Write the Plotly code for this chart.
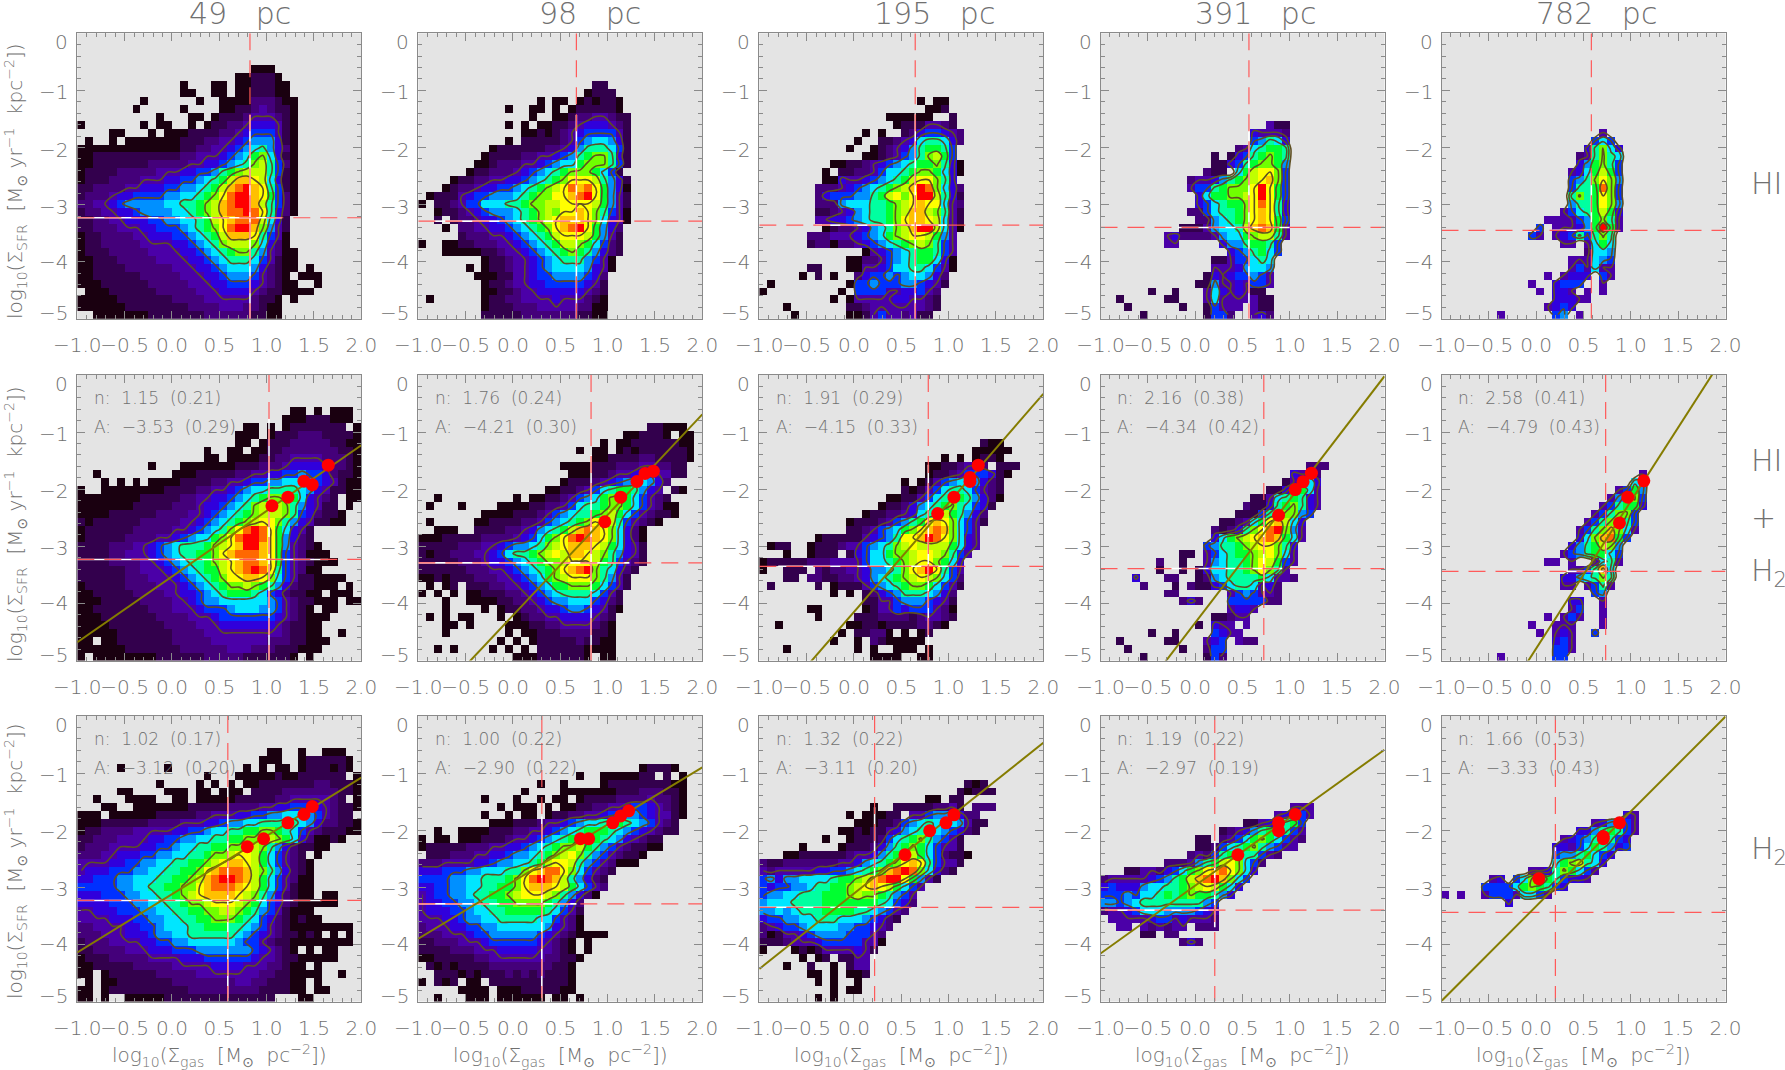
import plotly.graph_objects as go

# each row is a top-down line of 36 bins, hex digit = colour level, "." = empty
hi_49 = [""]*4 + [
"......................000",
"....................001110",
".............0...00.0011100",
".............00..00.0011100",
"........0......0..0000222100",
".......0.....0....0011232110",
"..........0...00.01112333210",
"0.......0.00..0.011223444310",
"....00...0.00011112234555310",
".0..0.0000000111223345666410",
"0000000000000112233456786420",
"00111111111112233345679a7410",
"0011111112222233445678ab8520",
"01111222223334455689abbb8510",
"0111222233344556789bddcb7410",
"112222334445566789bdefdc8510",
"12223445555667789aceffdc9520",
"2233456666677889abdeffdb8520",
"1223344566667789abdeefec8420",
"11223344455667789bcdeeeb741",
"11222333445556789aceffda631",
"011222233444556789bdddc8530",
"011222223333445678abbba7420",
"01112222233334456789aa863200",
"0011122222333344567888753100",
"0011112222223334456777642100.0",
"001111112222233344566653210.000",
"0001111112222233344555432100..0",
".00011111122222333444432110000",
"00000111111122223333332110.0",
"00000011111111222233322100",
"..000000011111112222221100",
]
hi_98 = [""]*6 + [
"......................11",
".....................0111",
"...............0.00.010110",
"...........0..00.0.0111110",
"..............0..0012233211",
"...........0.0.001123444321",
".............00101234555531",
"...........0.11111235677641",
".........011111122346888751",
"........01111223345689aa841",
".......00122233456779aaa851",
"......0112223456789aaa9751",
"....01122334456789acccb8641",
"...0122344556789abcedec9640",
".01113455666789aaccdefc9631",
"0.112355777889aabbccccb9631",
"..0112345666789abaccdca8530",
"..1.12234456789abcdddca7430",
"...0.22334456789acdefc9642",
".....122233456789bcccb9631",
"0..001122233456789bba97521",
"...0000011233456789a986421",
"........01123345678886530",
"......0.01123345677776430",
".......00011334556666542",
"........0112334455555431",
"........0011233444444321",
".0......0112233334333210",
"........0111222333332200",
"........1111122222221100",
]
hi_195 = [""]*8 + [
"....................0.00",
".....................001",
"................000000..1",
".................01113321",
".............0.0..12455432",
"............0..11234788742",
"...........0..01234689985",
".............00123568ab95",
".........0011234567899a840",
"........0.1122357789aa9740",
"........00433456789bcca84",
".......2223456789abdfea742",
".......245556689bcacffb841",
".......2226777889abcdcc732",
".......1123467889abddba831",
".......3344567889acddcb731",
"........012234678abdffb730",
"......2223334567" + "9abccb963",
"......1220223" + "456789aba853",
".............034567899853",
"...........00223567899740",
"......11...00334577887530",
".....0.1.0..245565677642",
".0.........0556555665431",
"0.........0.55553344532",
".........0.033333443321",
"...0.......112333333321",
"....0......00135332311",
]
hi_391 = [""]*11 + [
".....................311",
"...................43332",
"...................56874",
".................2378998",
"..............1.14589a98",
"..............114589aa96",
".............211.79bcca5",
"...........2334689abcda5",
"...........35589aaacfc95",
"............4799aabcfc95",
"............457899acec84",
"...........2257889acdc84",
"............226789acdc95",
"..........11136778bded93",
"........34222236779abb83",
"........33.....46689985",
"................4568975",
"..............11355787",
"..............33346776",
".............143455653",
"............1163343553",
"......1..1...37434311",
"..1.....11...373333311",
"...1......1..15333.311",
".....1.......1552..342",
]
hi_782 = [""]*12 + [
"....................3",
"...................575",
"..................48a74",
".................238a87",
".................469a85",
"................3479b95",
"................568aca6",
"................5889ea5",
"................8a89ca5",
"................6889ca6",
"...............35789b94",
".............3333569a83",
"............5.333469f93",
"...........53.345858a8",
"...............33.3797",
"..................2776",
"................333765",
"................353733",
".............3.3444.53",
"...........3..4555..3",
"............3.443.3.3",
"..............44433",
".............3454",
".......3......56.3",
]
mix_49 = [""]*4 + [
"...........................00.0.000",
"..........................000111000",
".....................00.0.01111111.0",
"....................000.011122211110",
"....................00.0111222221100",
"................0..00.00112222222110",
"................00.00001122333322210",
".........0...00000001112223444432210",
"..0.........000111112233445565542110",
"...0.0.0.000011112233455667776543100",
"0..000000001111223345677888876431100",
"000000001111122334456789aa9974321.00",
"0000000111112223445678ababa864311.0",
"0000111111222233456789abbba8542110",
"1011111122222334" + "56789abcca86431100",
"0111111222223345678acefec97431",
"011111222233456779aceffec96421",
"1111222334567888" + "9abcdffdc963210",
"111122333456788" + "99acdeeedc9532000",
"1111222233456788" + "9abcdeedc95321000",
"11111122333456789" + "9bcdefec853200",
"111111222333456789a" + "ccddca753110000",
"0111112222333456789aab" + "a98642" + "11000.0",
"0011111222233445678999" + "87542" + "1100.000",
"00011111222233" + "4566777777" + "65321" + "1000.00",
"001111111222333" + "45556777" + "66532" + "10.00",
"00011111112222333" + "45555555" + "4321" + "000",
"00001111111222233344" + "44444" + "3211" + "00",
"0000011111112222333333333" + "3211" + "00..0",
"00.00111111122222333333322211000",
"0000001111111222222333222111000",
"0.00000000111111222221111110.0",
]
mix_98 = [""]*6 + [
".............................11000",
"..........................001110.00",
".......................0.0011111100",
"....................0.00.0101111110",
"......................00111122" + "11110",
"..................0000111222" + "332211",
"...................000112334553311",
"..................01112345677642",
"................001123578998643.10",
"..0.........0.0011235679aa975321",
".0...0....00001122357889aa9753200",
"........0000111" + "23567889ab97532110",
".0.....001111" + "22356789accb853210",
"..000..1111" + "22346789bdedca7420",
"000111112222" + "34579acefedca7420",
"11111222334" + "56678abcdddcb97431",
"101122233457" + "889abcbddcba86431",
"111112223445" + "6789aabcccb985321",
"111111222334" + "56789acdefa87421",
"001011122233" + "45679abccca8631",
".0.01.111223" + "3456799aaa97531",
"0.0.0.001112" + "23456788887531",
"...0..000011" + "22345667775421",
"...0....0.01" + "12234456654310",
".0.0.00...0." + "0122334444321",
"...00.0....0" + "0011223333210",
"...0.......0" + ".001112222110",
"..........0." + "0.01111121100",
"..0.0....0.0" + ".0.1111110000",
"............" + "000111111" + "0.00",
]
mix_195 = [""]*8 + [
"............................100",
"...........................00000",
".......................0.0.0110",
".....................00112332.111",
".....................01123555410",
"..................0.01356776421",
"..................1013578875321",
"................001135789986420",
"...............011246789a87541",
".............0112234789b98642",
"...........0111235689cdca7531",
"...........11235679acdeda753",
".......011111" + "34568ccdfeca743",
".011..0111233" + "5678abcbbbb9743",
"...0..0111.14" + "5779aabccba853",
"0111112223333" + "57789abcca974",
"0..111.212233" + "46678acdfc853",
"...11.2211223" + "46789abcba752",
".1.....1.0111" + "356789aa97531",
".........0.0." + "124568887642",
".............113356665431",
"......00....." + "013354555320",
".......0....1" + "112222123321",
"..0........00" + "11011112210",
"..........0.1" + "1220.0.01",
".........0..0" + ".2100000",
"...0........0" + ".0..000.0",
"..............0000..00",
]
mix_391 = [""]*11 + [
"..........................222",
"........................4332",
".......................13674",
".....................1148973",
"...................113789843",
"..................211489a843",
".................111589aa65",
"...............112379cdb74",
"..............21248acefa63",
"..............479abcded973",
".............56889abcca84",
"..........11.357899abca73",
".......2..1.." + "367889acb953",
".......1..1.1" + "477889aca83",
"....4...22..1" + "267888897332",
".....2...1.21" + "1457887342",
"........22......" + "3565332",
"..........242..." + "5555522",
"................3443",
"..............11233",
"............1." + "433.3",
"......1..1...." + "5433",
"..1.....11..." + "345.322",
"...1......1.." + "255",
".....1......." + "152",
]
mix_782 = [""]*12 + [
".........................3",
"........................76",
"......................3596",
".....................369a5",
"....................358994",
"...................358aa5",
"..................358ac85",
".................358ada73",
".................47ade95",
"................4689ba6",
"...............35689975",
".............33.3..3783",
"................3358d7",
"...............44678a8",
"...............33.3583",
"...................56",
"................44..3",
"................35..3",
".............3.353..3",
"...........3..333...3",
"............3.343..5",
"..............453",
"..............553",
".......3......55",
]
h2_49 = [""]*4 + [
"........................00..0..000",
".......................000..0111110",
".....0.....0.........0.0.00.0111010",
"................0...00000100111111.0",
"..........0....0.0.0.00111111122111" + "0",
".....00....000.00.000.11112222222110",
"..0...0000..00.000001111122" + "3333321.0",
"...00..00000001111122223344555432110",
"000.00000011111223334455667776532" + "11",
"000111111222233344566778888876422110",
"011222233333445567788" + "99aa98753211100",
"11222333344" + "5566778899aaaba" + "97420010",
"122233334455" + "6778899aabba" + "86421100",
"222334445566" + "77889aabccb97532" + "1.0",
"333344556677" + "8899abcddcb97532" + "10",
"344455566778" + "899acdeeedba8642" + "10",
"445556677788" + "99abdeffedb97532" + "00",
"555556677889" + "9aacdeeedcb97531" + "00",
"444555667788" + "9abcddddcba86421" + "00.00",
"444455566778" + "89aabcccba975421" + "00000",
"334445556677" + "8899aabba9865310" + "00",
"333344455667" + "78899aaa98754210" + "100",
"223333445567" + "7788999887653210" + "0000000",
"222333444566" + "7788888876543211" + "010.0.0",
"122233334455" + "66777777655" + "32110" + "0000000",
"112222333444" + "555" + "6666666" + "54321" + "0.0.00",
"011122222333" + "3444" + "555555" + "4332" + "11" + "00000",
"001111122222" + "33333" + "4444" + "333" + "221" + "00.0",
"00.011111122" + "222" + "33333333" + "22" + "11" + "0000..0",
".0.00" + "1111111" + "22222222" + "33" + "22" + "111" + "00.0",
"00.0" + "1111111111" + "222222222" + "1111" + "00.00",
"00.0..00000" + "11111111111111" + "..." + "00",
]
h2_98 = [""]*6 + [
"............................01110",
"....................0..0000011.1.0",
"...............0..0....011111111" + "00",
".............0....0000000" + "111222110",
"........0...0..0.00.0" + "1111" + "2222" + "3" + "22" + "10",
"..........0.000.0.00" + "11223345543210",
"........0..0.00.0" + "11223345666543310",
".........000" + "111233456778998765321",
"..0..0000" + "111" + "223345678999876543211",
"0.00.000" + "111" + "2" + "33456789aa987643211",
"011111222" + "3344" + "56789aab9865321100",
".11122233445" + "66789abca86532110",
"222333344566" + "7789bccb86532000",
"4445556677788" + "acdeeca75321",
"5555667788" + "89a" + "cefedb8" + "6421",
"445566778899a" + "cdddcb97532",
"34556678899ab" + "cccba86420",
"3445566788" + "99a" + "aaa" + "98642",
"344455677889" + "9999" + "87531",
"333445667788" + "888" + "77" + "5320",
"233344556677" + "7777" + "64320",
"222333455666" + "666" + "54321" + "0000",
"112223334555" + "555" + "43210.0",
"111122233344" + "444" + "33210.0",
"001111122333" + "3333" + "22110",
".10101111222" + "22222" + "110",
"..1110101112" + "12121110",
"0.101.00.111" + "11111110",
".....0000.00" + "01111100",
"..0...000.000000.00.0",
]
h2_195 = [""]*8 + [
"..........................101",
".........................10111",
".....................00.11",
"..............0.." + "11111" + "223" + "1.222",
"...........0.000" + "11.33" + "5667422",
"............000" + "11256787776311",
"..........00" + "1011" + "346788765421",
"........0..0" + "1112" + "5789a86531",
".....0....0" + "1112" + "4689a975331",
"...00" + "111111" + "2334" + "689ab9752110",
"2112222222" + "33" + "46789acdc85331",
"323333344556" + "789adefea7421",
"564667777899" + "abdeffc9631",
"54556678899a" + "bcdcb9753",
"56677888999a" + "baa98653",
"677788889999" + "99987542",
"667678889999" + "8876532",
"455667788877" + "765421",
"234556777766" + "55432",
"201334566665" + "5532",
"111233345555" + "5330",
"0...01013333" + "431",
".....0.01.11" + "33",
"...0..1..0.1" + "33",
"......00.0.0" + "01",
".......0.0..0",
".........0.00",
".......0.0",
]
h2_391 = [""]*11 + [
"........................333",
"......................34553",
"..................11347895",
"...............1234689b853",
"............11.23579a97532",
"............1125789a86533",
"...........232589a88532",
"........2223689bca752",
"...113324579acdeca74",
"23333345689bdefda75",
"45444677889abcb974",
"55565778989a99864",
"66567" + "88888888" + "65",
"233457776666543",
".33333455343332",
"..33.323233.222",
".....11.22",
"..........242",
]
h2_782 = [""]*12 + [
".......................43",
"...................346753",
".................44689853",
"...............34568a854",
"..............4435798645",
"..............56689754",
"..............79ab874",
"...........3348a9753",
"......34.57af985443",
".....555579a9854",
"3.3..355537753",
"........4",
]

level_colors = ["#1a0010", "#33004d", "#44007a", "#4b00a8", "#3000dc", "#0030ff", "#0090ff", "#00e6ff",
                "#00ffa0", "#00ff30", "#70ff00", "#c0ff00", "#ffff00", "#ffc000", "#ff6800", "#ff0000"]

grids = [hi_49, hi_98, hi_195, hi_391, hi_782,
         mix_49, mix_98, mix_195, mix_391, mix_782,
         h2_49, h2_98, h2_195, h2_391, h2_782]
scales = ["49 pc", "98 pc", "195 pc", "391 pc", "782 pc"]
title_px = [240, 590, 934, 1255, 1596]

# vertical / horizontal dashed reference lines, and how far the white lines run
vline_x = [0.824, 0.67, 0.647, 0.568, 0.583,
           1.025, 0.825, 0.785, 0.725, 0.734,
           0.59, 0.305, 0.218, 0.207, 0.203]
hline_y = [-3.23, -3.29, -3.36, -3.40, -3.45,
           -3.23, -3.29, -3.35, -3.39, -3.44,
           -3.23, -3.29, -3.35, -3.40, -3.44]
white_h = [(-1, 1.16), (-0.84, 1.16), (-0.4, 0.98), (-0.18, 1.0), (0.17, 0.58),
           (-1, 1.65), (-1, 1.23), (-0.8, 1.01), (-0.26, 0.92), (0.29, 0.73),
           (-1, 1.58), (-1, 0.67), (-1, 0.49), (-1, 0.25), (0.2, 0.2)]
white_v = [(-1.43, -5), (-1.43, -5), (-1.4, -5), (-1.7, -5), (-2.45, -3.45),
           (-0.76, -5), (-1.4, -5), (-1.57, -5), (-2.5, -3.9), (-2.9, -3.7),
           (-1.09, -5), (-1.76, -5), (-1.6, -4.3), (-2.0, -3.7), (-2.3, -2.9)]

# fit values printed in the panels of rows 2 and 3
fit_n = [1.15, 1.76, 1.91, 2.16, 2.58, 1.02, 1.00, 1.32, 1.19, 1.66]
fit_n_err = [0.21, 0.24, 0.29, 0.38, 0.41, 0.17, 0.22, 0.22, 0.22, 0.53]
fit_a = [-3.53, -4.21, -4.15, -4.34, -4.79, -3.12, -2.90, -3.11, -2.97, -3.33]
fit_a_err = [0.29, 0.30, 0.33, 0.42, 0.43, 0.20, 0.22, 0.20, 0.19, 0.43]

point_x = [[1.056, 1.225, 1.394, 1.482, 1.651], [0.97, 1.138, 1.31, 1.395, 1.483],
           [0.884, 1.056, 1.225, 1.225, 1.313], [0.881, 1.057, 1.14, 1.228], [0.88, 0.968, 1.137],
           [0.796, 0.968, 1.225, 1.394, 1.482], [0.713, 0.80, 1.054, 1.138, 1.222],
           [0.539, 0.80, 0.972, 1.056], [0.451, 0.881, 0.881, 1.057], [0.028, 0.709, 0.709, 0.88]]
point_y = [[-2.29, -2.14, -1.86, -1.92, -1.58], [-2.57, -2.14, -1.865, -1.725, -1.684],
           [-2.427, -2.14, -1.795, -1.865, -1.58], [-2.456, -2.006, -1.87, -1.72], [-2.59, -2.14, -1.854],
           [-2.29, -2.15, -1.87, -1.725, -1.585], [-2.15, -2.15, -1.87, -1.75, -1.66],
           [-2.43, -2.01, -1.87, -1.73], [-2.43, -2.01, -1.87, -1.725], [-2.85, -2.15, -2.11, -1.87]]

y_tick_vals = [0, -1, -2, -3, -4, -5]
y_tick_nudge = [-9, -2, -2, -2, 0, 6]

col_left = [77.3, 418.3, 759.3, 1100.5, 1441.5]
row_top = [33.3, 375, 716]
W, H = 1785, 1070
PW, PH = 284, 285.5
GRAY = "#707070"
FONT = "DejaVu Sans Light, DejaVu Sans"

xs = [-1 + (j + 0.5) * 3 / 36 for j in range(36)]
ys = [-(i + 0.5) * 5 / 36 for i in range(36)]


def to_levels(rows):
    rows = rows + [""] * (36 - len(rows))
    z = []
    for row in rows[:36]:
        row = row.ljust(36, ".")[:36]
        z.append([None if c == "." else int(c, 16) for c in row])
    return z


def pnote(x, y, text, size, **kw):
    return dict(x=x / W, y=1 - y / H, xref="paper", yref="paper", text=text, showarrow=False,
                font=dict(family=FONT, size=size, color=GRAY), **kw)


colorscale = [[k / 15, c] for k, c in enumerate(level_colors)]
fig = go.Figure()
notes = []
layout = {}

for idx, rows in enumerate(grids):
    n = "" if idx == 0 else idx + 1
    r, c = idx // 5, idx % 5
    xa, ya = f"x{n}", f"y{n}"
    left, top = col_left[c], row_top[r]
    z = to_levels(rows)
    z_filled = [[0 if v is None else v for v in line] for line in z]

    fig.add_trace(go.Heatmap(z=z, x=xs, y=ys, xaxis=xa, yaxis=ya, colorscale=colorscale, zmin=0, zmax=15,
                             showscale=False, hoverongaps=False))
    fig.add_trace(go.Contour(z=z_filled, x=xs, y=ys, xaxis=xa, yaxis=ya, showscale=False,
                             colorscale=[[0, "#5e4f22"], [1, "#5e4f22"]],
                             contours=dict(coloring="lines", start=3, end=12, size=2.25),
                             line=dict(width=1.6, smoothing=1)))
    # white line under the dashed red one
    fig.add_trace(go.Scatter(x=list(white_h[idx]), y=[hline_y[idx]] * 2, xaxis=xa, yaxis=ya, mode="lines",
                             line=dict(color="white", width=1.6)))
    fig.add_trace(go.Scatter(x=[vline_x[idx]] * 2, y=list(white_v[idx]), xaxis=xa, yaxis=ya, mode="lines",
                             line=dict(color="white", width=1.6)))
    fig.add_trace(go.Scatter(x=[-1, 2], y=[hline_y[idx]] * 2, xaxis=xa, yaxis=ya, mode="lines",
                             line=dict(color="#ff5a5a", width=1.2, dash="17px,10px")))
    fig.add_trace(go.Scatter(x=[vline_x[idx]] * 2, y=[0, -5], xaxis=xa, yaxis=ya, mode="lines",
                             line=dict(color="#ff5a5a", width=1.2, dash="17px,10px")))

    if r > 0:
        k = idx - 5
        fig.add_trace(go.Scatter(x=[-1, 2], y=[fit_a[k] - fit_n[k], fit_a[k] + 2 * fit_n[k]], xaxis=xa, yaxis=ya,
                                 mode="lines", line=dict(color="#857c00", width=2)))
        fig.add_trace(go.Scatter(x=point_x[k], y=point_y[k], xaxis=xa, yaxis=ya, mode="markers",
                                 marker=dict(color="#ff0000", size=13)))
        notes.append(pnote(left + 14.5, top + 23, f"n:\u00a0\u00a0{fit_n[k]:.2f}\u00a0\u00a0({fit_n_err[k]:.2f})",
                           17, xanchor="left", yanchor="middle"))
        a_txt = f"{fit_a[k]:.2f}".replace("-", "\u2212")
        notes.append(pnote(left + 14.5, top + 52, f"A:\u00a0\u00a0{a_txt}\u00a0\u00a0({fit_a_err[k]:.2f})",
                           17, xanchor="left", yanchor="middle"))

    for val, nudge in zip(y_tick_vals, y_tick_nudge):
        label = str(val).replace("-", "\u2212")
        notes.append(dict(x=0, y=val, xref=f"{xa} domain", yref=ya, text=label, showarrow=False,
                          xanchor="right", yanchor="middle", xshift=-7, yshift=nudge,
                          font=dict(family=FONT, size=20, color=GRAY)))

    axis_style = dict(showgrid=False, zeroline=False, showline=True, linecolor="#8a8a8a", linewidth=1,
                      mirror="allticks", ticks="inside", tickcolor="#8a8a8a", ticklen=8, tickwidth=1,
                      automargin=False)
    layout[f"xaxis{n}"] = dict(domain=[left / W, (left + PW) / W], anchor=ya, range=[-1, 2], tick0=-1, dtick=0.5,
                               tickformat=".1f", tickangle=0, tickfont=dict(family=FONT, size=20, color=GRAY),
                               ticklabelstandoff=8,
                               minor=dict(tick0=-1, dtick=0.1, ticks="inside", ticklen=4, tickcolor="#8a8a8a"),
                               **axis_style)
    layout[f"yaxis{n}"] = dict(domain=[1 - (top + PH) / H, 1 - top / H], anchor=xa, range=[-5, 0], tick0=0, dtick=1,
                               showticklabels=False,
                               minor=dict(tick0=0, dtick=0.2, ticks="inside", ticklen=4, tickcolor="#8a8a8a"),
                               **axis_style)

for x, label in zip(title_px, scales):
    notes.append(pnote(x, 13, label.replace(" ", "\u00a0\u00a0\u00a0"), 30, xanchor="center", yanchor="middle"))

y_title = ("log<sub>10</sub>(\u03a3<sub>SFR</sub>\u00a0\u00a0[M<sub>\u2299</sub>\u00a0yr<sup>\u22121</sup>"
           "\u00a0\u00a0kpc<sup>\u22122</sup>])")
for y in [181, 524, 861]:
    notes.append(pnote(15, y, y_title, 20, textangle=-90, xanchor="center", yanchor="middle"))

x_title = "log<sub>10</sub>(\u03a3<sub>gas</sub>\u00a0\u00a0[M<sub>\u2299</sub>\u00a0\u00a0pc<sup>\u22122</sup>])"
for x in [219, 560, 901, 1242, 1583]:
    notes.append(pnote(x, 1055, x_title, 20, xanchor="center", yanchor="middle"))

for y, label in [(183, "HI"), (460, "HI"), (517, "+"), (572, "H<sub>2</sub>"), (850, "H<sub>2</sub>")]:
    notes.append(pnote(1749, y, label, 30, xanchor="left", yanchor="middle"))

fig.update_layout(width=W, height=H, margin=dict(l=0, r=0, t=0, b=0), showlegend=False,
                  paper_bgcolor="white", plot_bgcolor="#e4e4e4", annotations=notes, **layout)
fig.write_html("out.html", config={"displayModeBar": False}, post_script="document.body.style.margin='0';")
